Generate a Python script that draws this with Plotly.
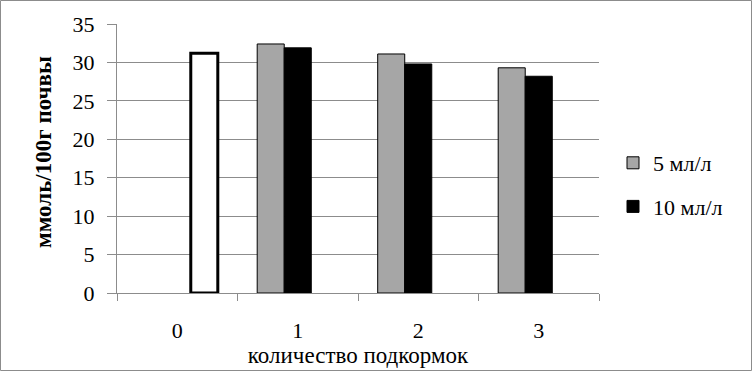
import plotly.graph_objects as go

categories = ["0", "1", "2", "3"]
series_5 = [None, 32.4, 31.1, 29.3]
series_10 = [None, 31.9, 29.8, 28.2]
control = [31.2, None, None, None]
y_ticks = [0, 5, 10, 15, 20, 25, 30, 35]
y_title = "ммоль/100г почвы"
x_title = "количество подкормок"

FONT = "Liberation Serif"
GRID = "#8c8c8c"

L, R, T, B = 117, 153, 24, 78
W, H = 752, 371
pw, ph = W - L - R, H - T - B

fig = go.Figure()
fig.add_trace(go.Bar(x=categories, y=series_5, name="5 мл/л",
                     marker=dict(color="#a6a6a6", line=dict(color="#000000", width=1)),
                     legendgroup="a"))
fig.add_trace(go.Bar(x=categories, y=series_10, name="10 мл/л",
                     marker=dict(color="#000000", line=dict(color="#000000", width=1)),
                     legendgroup="b"))
fig.add_trace(go.Bar(x=categories, y=control, name="контроль", showlegend=False,
                     marker=dict(color="#ffffff", line=dict(color="#000000", width=3))))

fig.update_layout(
    width=W, height=H,
    margin=dict(l=L, r=R, t=T, b=B, autoexpand=False),
    paper_bgcolor="white", plot_bgcolor="white",
    barmode="group", bargap=0.327, bargroupgap=0,
    font=dict(family=FONT, color="#000000", size=20),
    legend=dict(x=(613 - L) / pw, xanchor="left", y=(H - B - 185) / ph, yanchor="middle",
                font=dict(family=FONT, size=22), traceorder="grouped", tracegroupgap=12,
                itemwidth=30, bgcolor="rgba(0,0,0,0)"),
    xaxis=dict(type="category", showline=True, linecolor=GRID, linewidth=1,
               ticks="outside", tickson="boundaries", ticklen=7, tickcolor=GRID,
               ticklabelstandoff=18,
               tickfont=dict(family=FONT, size=22), showgrid=False,
               title=dict(text=x_title, font=dict(family=FONT, size=23), standoff=2)),
    yaxis=dict(range=[0, 35], tickvals=y_ticks, showline=True, linecolor=GRID, linewidth=1,
               ticks="outside", ticklen=9, tickcolor=GRID, showgrid=True, gridcolor=GRID,
               gridwidth=1, zeroline=False, tickfont=dict(family=FONT, size=22),
               ticklabelstandoff=8),
    annotations=[dict(text="<b>" + y_title + "</b>", textangle=-90,
                      xref="paper", yref="paper",
                      x=(43 - L) / pw, y=(H - B - 152) / ph,
                      xanchor="center", yanchor="middle", showarrow=False,
                      font=dict(family=FONT, size=23, color="#000000"))],
    shapes=[dict(type="rect", xref="paper", yref="paper",
                 x0=(0.5 - L) / pw, x1=(W - 0.5 - L) / pw,
                 y0=-(B - 0.5) / ph, y1=1 + (T - 0.5) / ph,
                 line=dict(color="#8c8c8c", width=1), fillcolor="rgba(0,0,0,0)", layer="below")],
)

fig.write_html("out.html", config={"displayModeBar": False},
               post_script="document.body.style.margin='0';")
